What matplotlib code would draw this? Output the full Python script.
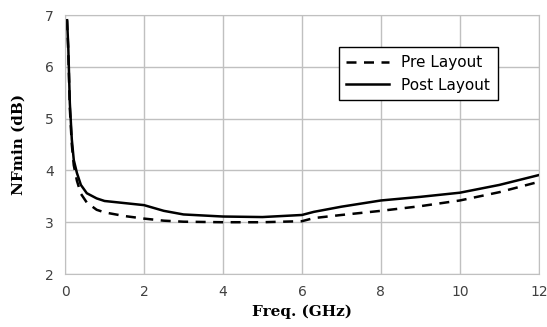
import numpy as np
import matplotlib.pyplot as plt

freq_pre = [0.05, 0.08, 0.12, 0.17, 0.22, 0.3, 0.4, 0.55, 0.8, 1.0, 1.5, 2.0, 2.5, 3.0,
            4.0, 5.0, 6.0, 6.3, 7.0, 8.0, 9.0, 10.0, 11.0, 12.0]
nf_pre = [6.9, 6.3, 5.2, 4.5, 4.1, 3.8, 3.55, 3.38, 3.24, 3.19, 3.12, 3.07, 3.03, 3.01,
          3.0, 3.0, 3.02, 3.08, 3.14, 3.22, 3.31, 3.42, 3.58, 3.78]

freq_post = [0.05, 0.08, 0.12, 0.17, 0.22, 0.3, 0.4, 0.55, 0.8, 1.0, 1.5, 2.0, 2.5, 3.0,
             4.0, 5.0, 6.0, 6.3, 7.0, 8.0, 9.0, 10.0, 11.0, 12.0]
nf_post = [6.9, 6.4, 5.3, 4.6, 4.2, 3.95, 3.72, 3.56, 3.46, 3.41, 3.37, 3.33, 3.22, 3.15,
           3.11, 3.1, 3.14, 3.2, 3.3, 3.42, 3.49, 3.57, 3.72, 3.91]

xticks = [0, 2, 4, 6, 8, 10, 12]
yticks = [2, 3, 4, 5, 6, 7]

fig = plt.figure(figsize=(5.47, 3.27), dpi=100)
ax = fig.add_axes([0.119, 0.162, 0.866, 0.792])

ax.plot(freq_pre, nf_pre, "k--", lw=1.8, dashes=(4, 3), label="Pre Layout")
ax.plot(freq_post, nf_post, "k-", lw=1.8, label="Post Layout")

ax.set_xlim(0, 12)
ax.set_ylim(2, 7)
ax.set_xticks(xticks)
ax.set_yticks(yticks)
ax.grid(True, color="#c0c0c0", lw=1)
for s in ax.spines.values():
    s.set_color("#c0c0c0")
ax.tick_params(length=0, labelsize=10, labelcolor="#404040", pad=8)

ax.set_xlabel("Freq. (GHz)", family="DejaVu Serif", weight="bold", fontsize=11)
ax.set_ylabel("NFmin (dB)", family="DejaVu Serif", weight="bold", fontsize=11,
              labelpad=14)

leg = ax.legend(loc="upper right", bbox_to_anchor=(0.93, 0.905), fontsize=11,
                fancybox=False, framealpha=1, edgecolor="black", handlelength=2.8,
                borderpad=0.5)
leg.get_frame().set_linewidth(1.0)

fig.savefig("out.png")
